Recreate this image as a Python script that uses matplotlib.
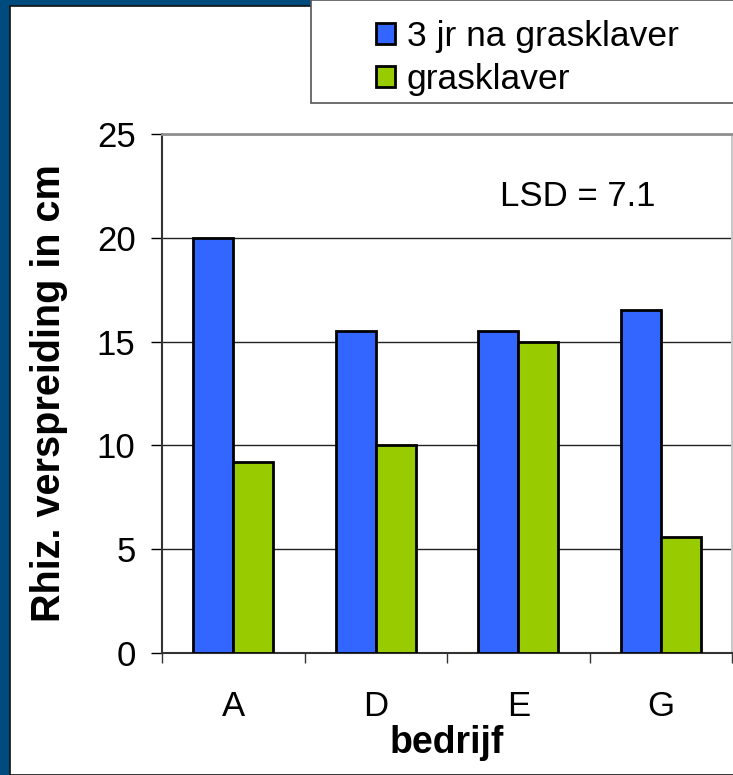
import matplotlib
matplotlib.use("Agg")
import matplotlib.pyplot as plt
from matplotlib.patches import Rectangle, Patch
import numpy as np

plt.rcParams['font.family'] = ['Liberation Sans', 'DejaVu Sans']

categories = ["A", "D", "E", "G"]
series_names = ["3 jr na grasklaver", "grasklaver"]
values_3jr = [20.0, 15.5, 15.5, 16.5]
values_gk = [9.2, 10.0, 15.0, 5.6]
yticks = [0, 5, 10, 15, 20, 25]
colors = ["#3366FF", "#99CC00"]

FS = 25

W, H = 733, 775
fig = plt.figure(figsize=(W / 100, H / 100), dpi=100)
fig.patch.set_facecolor("#004B7D")

# white inner area with thin dark line
fig.patches.append(Rectangle((10 / W, 0), 1 - 10 / W + 0.01, (H - 6) / H,
                             transform=fig.transFigure, facecolor="white",
                             edgecolor="#111111", lw=1.2, zorder=-10))

ax_l, ax_r, ax_t, ax_b = 162, 732, 134, 653
ax = fig.add_axes([ax_l / W, (H - ax_b) / H, (ax_r - ax_l) / W, (ax_b - ax_t) / H])
ax.set_zorder(2)
ax.set_facecolor("white")

x = np.arange(len(categories))
bw = 0.28
ax.bar(x - bw / 2, values_3jr, bw, color=colors[0], edgecolor="black", lw=2.0, zorder=3)
ax.bar(x + bw / 2, values_gk, bw, color=colors[1], edgecolor="black", lw=2.0, zorder=3)

ax.set_xlim(-0.5, len(categories) - 0.5)
ax.set_ylim(0, 25)
ax.set_yticks(yticks)
ax.set_yticklabels([str(t) for t in yticks], fontsize=FS)
ax.yaxis.grid(True, color="#222222", lw=1.0, zorder=1)
ax.set_axisbelow(True)

ax.set_xticks(x)
ax.set_xticklabels(categories, fontsize=FS)
ax.set_xticks(np.arange(len(categories) + 1) - 0.5, minor=True)
ax.tick_params(axis="x", which="major", length=0, pad=27)
ax.tick_params(axis="x", which="minor", length=7, width=1, color="#333333", direction="out")
ax.tick_params(axis="y", length=8, width=1, direction="out", pad=11)

for s in ["left", "bottom"]:
    ax.spines[s].set_color("#333333")
    ax.spines[s].set_linewidth(1.5)
ax.spines["top"].set_color("#909090")
ax.spines["top"].set_linewidth(2)
ax.spines["right"].set_color("#C8C8C8")
ax.spines["right"].set_linewidth(1.5)

ax.set_ylabel("Rhiz. verspreiding in cm", fontsize=28.5, fontweight="bold")
ax.yaxis.set_label_coords(-(ax_l - 49) / (ax_r - ax_l), 0.5 + 0.0)
ax.set_xlabel("bedrijf", fontsize=27, fontweight="bold")
ax.xaxis.set_label_coords(0.5, -(743 - ax_b) / (ax_b - ax_t))
ax.xaxis.label.set_va("center")
ax.yaxis.label.set_va("center")

fig.text(500 / W, 1 - 197 / H, "LSD = 7.1", fontsize=FS, va="center", ha="left", zorder=5)

# legend box
fig.patches.append(Rectangle((311 / W, 1 - 103 / H), 1.0, 103 / H,
                             transform=fig.transFigure, facecolor="white",
                             edgecolor="#555555", lw=1.2, zorder=1))
handles = [Patch(facecolor=colors[0], edgecolor="black", lw=2.0),
           Patch(facecolor=colors[1], edgecolor="black", lw=2.0)]
leg = fig.legend(handles, series_names, loc="upper left",
                 bbox_to_anchor=(351 / W, 1 + 5 / H), frameon=False, fontsize=25.5,
                 handlelength=0.55, handleheight=0.55, handletextpad=0.33,
                 labelspacing=0.28, borderpad=0.2)
leg.set_zorder(5)

fig.savefig("out.png", dpi=100, facecolor=fig.get_facecolor())
